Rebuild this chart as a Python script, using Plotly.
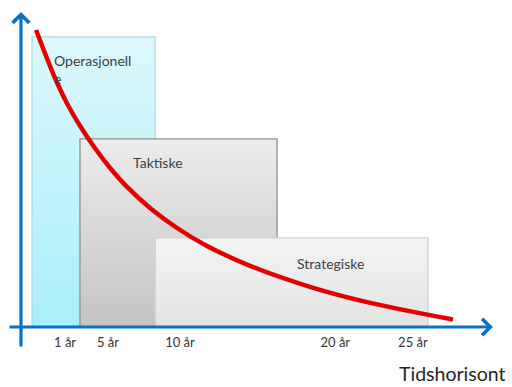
import plotly.graph_objects as go

# Planning horizons: name, start/end on the time axis (years), relative height
box_names = ["Operasjonell<br>e", "Taktiske", "Strategiske"]
box_start = [0.47, 3.56, 8.40]
box_end = [8.40, 16.25, 25.97]
box_height = [96.7, 62.7, 29.7]
box_top_color = ["#ddf8fd", "#ececec", "#f3f4f4"]
box_bottom_color = ["#a9eef8", "#c4c4c4", "#e2e4e4"]
box_border = ["#a6dcee", "#8f8f8f", "#d0d0d0"]

# Label positions inside each box
label_x = [1.76, 8.6, 19.66]
label_y = [92.5, 54.7, 21.3]
label_anchor = ["left", "center", "center"]

# Level of detail falling with the time horizon
curve_x = [0.73, 1.31, 1.95, 2.72, 3.56, 4.53, 5.49, 6.59, 8.07,
           9.81, 11.74, 14.51, 18.37, 22.04, 27.58]
curve_y = [99.0, 91.2, 83.0, 74.6, 67.1, 59.6, 53.1, 46.7, 39.7,
           33.0, 27.0, 20.4, 13.4, 8.3, 2.5]

# Time axis labels
tick_pos = [2.6, 5.36, 10.0, 20.0, 25.0]
tick_text = ["1 år", "5 år", "10 år", "20 år", "25 år"]

x_range = [-1.59, 31.38]
y_range = [-20.0, 109.0]
axis_blue = "#0a72c4"
text_color = "#404040"
font_family = "Lato"

fig = go.Figure()

for i, name in enumerate(box_names):
    x0, x1, h = box_start[i], box_end[i], box_height[i]
    fig.add_trace(go.Scatter(
        x=[x0, x1, x1, x0, x0],
        y=[0, 0, h, h, 0],
        mode="lines",
        line=dict(color=box_border[i], width=1.3),
        fill="toself",
        fillgradient=dict(
            type="vertical",
            colorscale=[[0, box_bottom_color[i]], [1, box_top_color[i]]],
        ),
        hoverinfo="skip",
        showlegend=False,
    ))
    fig.add_annotation(
        x=label_x[i], y=label_y[i], xref="x", yref="y",
        text=name, showarrow=False,
        xanchor=label_anchor[i], yanchor="top" if i == 0 else "middle",
        align="left",
        font=dict(family=font_family, size=14, color=text_color),
    )

fig.add_trace(go.Scatter(
    x=curve_x, y=curve_y,
    mode="lines",
    line=dict(color="#e50000", width=4.5, shape="spline", smoothing=1.0),
    hoverinfo="skip",
    showlegend=False,
))

# Axis arrows
fig.add_annotation(
    x=30.15, y=0, ax=-1.08, ay=0,
    xref="x", yref="y", axref="x", ayref="y",
    text="", showarrow=True, arrowhead=4, arrowsize=1,
    arrowwidth=3.2, arrowcolor=axis_blue,
)
fig.add_annotation(
    x=-0.24, y=105.0, ax=-0.24, ay=-7.0,
    xref="x", yref="y", axref="x", ayref="y",
    text="", showarrow=True, arrowhead=4, arrowsize=1,
    arrowwidth=3.2, arrowcolor=axis_blue,
)

fig.add_annotation(
    x=452 / 512, y=0, xref="paper", yref="paper",
    text="Tidshorisont", showarrow=False,
    xanchor="center", yanchor="bottom",
    font=dict(family=font_family, size=19.5, color="#262626"),
)

fig.update_layout(
    width=512, height=387,
    margin=dict(l=0, r=0, t=0, b=0),
    paper_bgcolor="white", plot_bgcolor="white",
    showlegend=False,
    xaxis=dict(
        range=x_range, showgrid=False, zeroline=False, showline=False,
        ticks="", tickvals=tick_pos, ticktext=tick_text,
        anchor="free", position=(387 - 333) / 387,
        tickfont=dict(family=font_family, size=13, color="#333333"),
        fixedrange=True,
    ),
    yaxis=dict(
        range=y_range, showgrid=False, zeroline=False, showline=False,
        showticklabels=False, ticks="", fixedrange=True,
    ),
)

fig.write_html("out.html")
